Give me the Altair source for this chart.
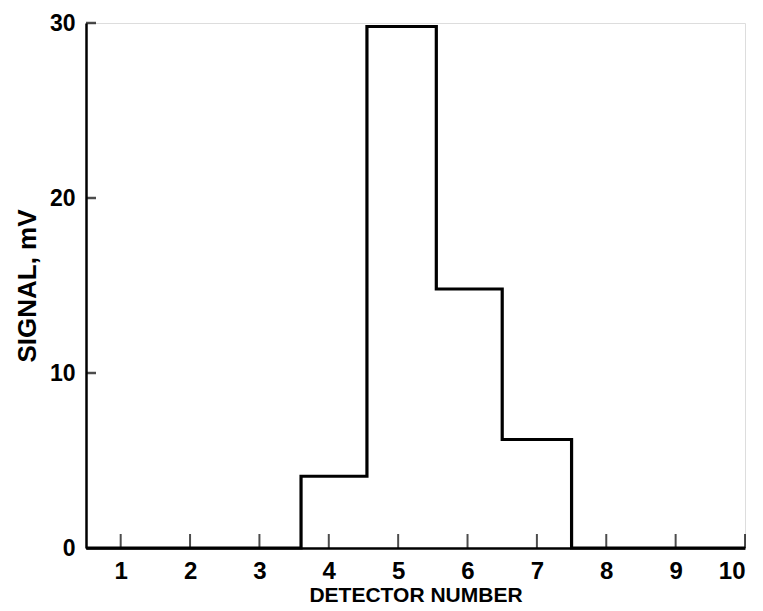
import altair as alt
import pandas as pd

# Step histogram: bin edges (detector number) and signal level (mV) held from each edge
EDGES = [0.5, 3.6, 4.55, 5.55, 6.5, 7.5, 10.0]
SIGNAL = [0.0, 4.1, 29.8, 14.8, 6.2, 0.0, 0.0]
X_TICKS = [1, 2, 3, 4, 5, 6, 7, 8, 9, 10]
Y_TICKS = [0, 10, 20, 30]

W, H = 659, 525
FONT = "Liberation Sans"

steps = pd.DataFrame({"detector": EDGES, "signal": SIGNAL})
xt = pd.DataFrame({"x": X_TICKS})
yt = pd.DataFrame({"y": Y_TICKS[1:]})

xscale = alt.Scale(domain=[0.5, 10], nice=False, zero=False)
yscale = alt.Scale(domain=[0, 30], nice=False)

line = alt.Chart(steps).mark_line(
    interpolate="step-after", color="black", strokeWidth=3.2
).encode(
    x=alt.X("detector:Q", scale=xscale,
            axis=alt.Axis(values=X_TICKS, title="DETECTOR NUMBER", grid=False,
                          ticks=False, tickSize=0, labelPadding=11, titlePadding=1,
                          domainColor="black", domainWidth=2.5,
                          labelFont=FONT, labelFontSize=24, labelFontWeight="bold",
                          labelColor="black", titleFont=FONT, titleFontSize=21,
                          titleFontWeight="bold", titleColor="black", format="d")),
    y=alt.Y("signal:Q", scale=yscale,
            axis=alt.Axis(values=Y_TICKS, title="SIGNAL, mV", grid=False,
                          ticks=False, tickSize=0, labelPadding=11, titlePadding=9,
                          domainColor="black", domainWidth=2.5,
                          labelFont=FONT, labelFontSize=23, labelFontWeight="bold",
                          labelColor="black", titleFont=FONT, titleFontSize=26,
                          titleFontWeight="bold", titleColor="black", format="d")),
)

xticks = alt.Chart(xt).mark_tick(
    color="black", thickness=2, size=14, orient="vertical"
).encode(x=alt.X("x:Q", scale=xscale), y=alt.value(H - 7))

yticks = alt.Chart(yt).mark_tick(
    color="black", thickness=2.5, size=10, orient="horizontal"
).encode(y=alt.Y("y:Q", scale=yscale), x=alt.value(5))

chart = alt.layer(line, xticks, yticks).properties(
    width=W, height=H, autosize="none",
    padding={"left": 78, "top": 15, "right": 10, "bottom": 62},
).configure_view(stroke=None).configure(background="white")

chart.save("out.html", embed_options={"renderer": "svg", "actions": False})
